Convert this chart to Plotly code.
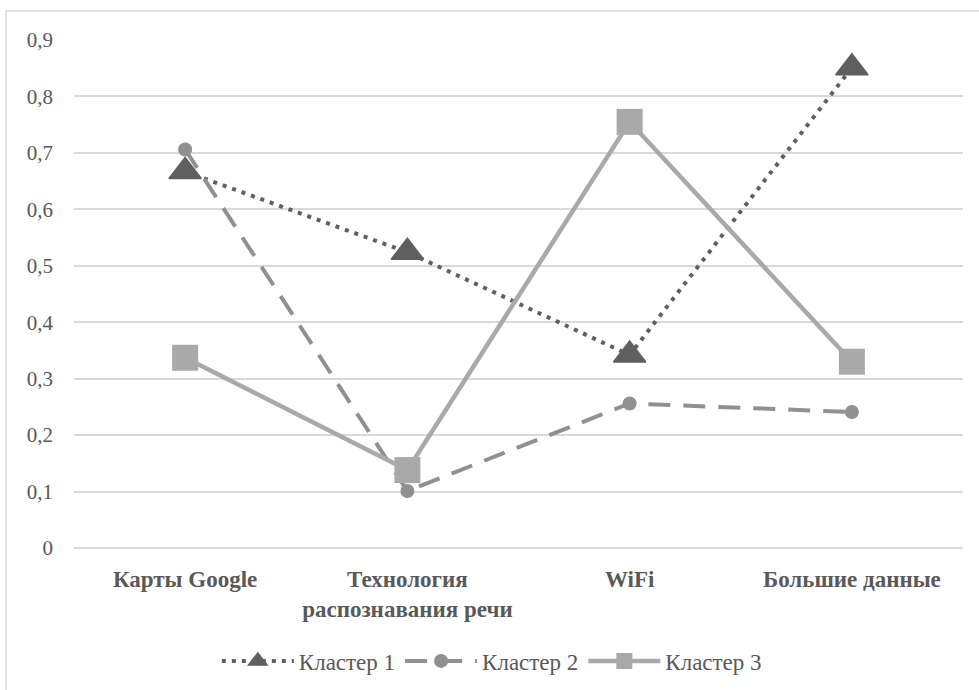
import plotly.graph_objects as go

categories = ["Карты Google", "Технология<br>распознавания речи", "WiFi", "Большие данные"]
cluster1 = [0.667, 0.524, 0.342, 0.851]
cluster2 = [0.706, 0.101, 0.256, 0.241]
cluster3 = [0.337, 0.138, 0.755, 0.330]
series_names = ["Кластер 1", "Кластер 2", "Кластер 3"]
y_tickvals = [0, 0.1, 0.2, 0.3, 0.4, 0.5, 0.6, 0.7, 0.8, 0.9]
y_ticktext = ["0", "0,1", "0,2", "0,3", "0,4", "0,5", "0,6", "0,7", "0,8", "0,9"]

FONT = "Liberation Serif, Times New Roman, serif"
TXT = "#595959"

fig = go.Figure()
fig.add_trace(go.Scatter(
    x=categories, y=cluster1, name=series_names[0], mode="lines+markers",
    line=dict(color="#5f5f5f", width=4, dash="4px,6px"),
    marker=dict(symbol="triangle-up", size=28, color="#5f5f5f",
                line=dict(color="#5f5f5f", width=1.5)),
    cliponaxis=False,
))
fig.add_trace(go.Scatter(
    x=categories, y=cluster2, name=series_names[1], mode="lines+markers",
    line=dict(color="#909090", width=4, dash="22px,13px"),
    marker=dict(symbol="circle", size=14, color="#909090"),
    cliponaxis=False,
))
fig.add_trace(go.Scatter(
    x=categories, y=cluster3, name=series_names[2], mode="lines+markers",
    line=dict(color="#a9a9a9", width=4.5),
    marker=dict(symbol="square", size=26, color="#a9a9a9"),
    cliponaxis=False,
))

fig.update_layout(
    width=979, height=690,
    margin=dict(l=74, r=16, t=40, b=142, autoexpand=False),
    paper_bgcolor="white", plot_bgcolor="white",
    font=dict(family=FONT, color=TXT, size=21),
    showlegend=True,
    legend=dict(orientation="h", x=0.47, xanchor="center", y=-0.18, yanchor="top",
                font=dict(family=FONT, color=TXT, size=23), itemwidth=72,
                traceorder="normal"),
    shapes=[dict(type="rect", xref="paper", yref="paper",
                 x0=-0.0765, x1=1.2, y0=-0.5, y1=1.0571,
                 line=dict(color="#d9d9d9", width=1.5), fillcolor="rgba(0,0,0,0)",
                 layer="below")],
)
fig.update_xaxes(
    type="category", range=[-0.5, 3.5], showgrid=False, showline=False,
    zeroline=False, ticks="", automargin=False,
    tickfont=dict(family=FONT, color=TXT, size=23, weight="bold"),
    ticklabelstandoff=15,
)
fig.update_yaxes(
    range=[0, 0.9], tickvals=y_tickvals, ticktext=y_ticktext,
    showgrid=True, gridcolor="#d9d9d9", gridwidth=1.5,
    zeroline=True, zerolinecolor="#d9d9d9", zerolinewidth=1.5,
    showline=False, ticks="", automargin=False,
    tickfont=dict(family=FONT, color=TXT, size=21),
    ticklabelstandoff=20,
)

fig.write_html(
    "out.html",
    config={"displayModeBar": False},
    post_script="document.body.style.margin='0';document.body.style.overflow='hidden';",
)
